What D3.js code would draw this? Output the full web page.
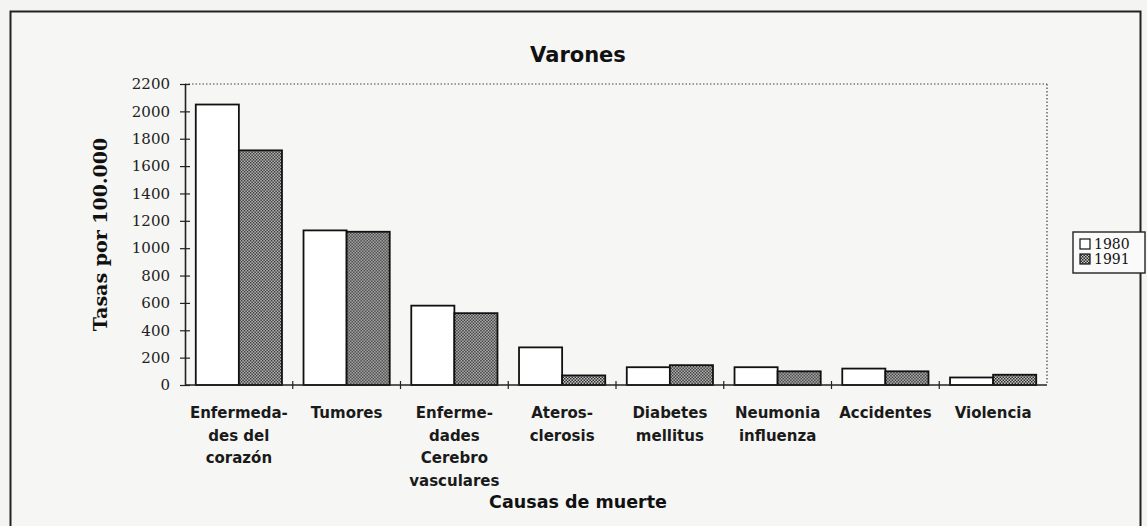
<!DOCTYPE html>
<html>
<head>
<meta charset="utf-8">
<script src="https://cdn.jsdelivr.net/npm/d3@7"></script>
<style>
  body { margin: 0; background: #f4f4f2; }
  svg { display: block; }
</style>
</head>
<body>
<div id="chart"></div>
<script>
// datos
const causas = [
  ["Enfermeda-", "des del", "corazón"],
  ["Tumores"],
  ["Enferme-", "dades", "Cerebro", "vasculares"],
  ["Ateros-", "clerosis"],
  ["Diabetes", "mellitus"],
  ["Neumonia", "influenza"],
  ["Accidentes"],
  ["Violencia"]
];
const series = ["1980", "1991"];
const valores1980 = [2050, 1130, 580, 275, 130, 130, 120, 55];
const valores1991 = [1715, 1120, 525, 70, 145, 100, 100, 75];
const yTicks = [0, 200, 400, 600, 800, 1000, 1200, 1400, 1600, 1800, 2000, 2200];

const width = 1147;
const height = 526;
const margin = { left: 185, right: 100, top: 84, bottom: 141 };

const svg = d3.select("#chart")
    .append("svg")
    .attr("width", width)
    .attr("height", height);

// trama de las barras de 1991
const defs = svg.append("defs");
const pat = defs.append("pattern")
    .attr("id", "trama")
    .attr("patternUnits", "userSpaceOnUse")
    .attr("width", 3)
    .attr("height", 3);
pat.append("rect").attr("width", 3).attr("height", 3).attr("fill", "#c8c8c8");
pat.append("rect").attr("width", 1.5).attr("height", 1.5).attr("fill", "#2a2a2a");
pat.append("rect").attr("x", 1.5).attr("y", 1.5).attr("width", 1.5).attr("height", 1.5).attr("fill", "#2a2a2a");

// marco exterior
svg.append("rect")
    .attr("x", 10.5)
    .attr("y", 11.5)
    .attr("width", 1130)
    .attr("height", 530)
    .attr("fill", "#f6f6f4")
    .attr("stroke", "#222")
    .attr("stroke-width", 2);

const x0 = d3.scaleBand()
    .domain(d3.range(causas.length))
    .range([margin.left, width - margin.right])
    .paddingInner(0.2)
    .paddingOuter(0.1);

const x1 = d3.scaleBand()
    .domain(series)
    .range([0, x0.bandwidth()]);

const y = d3.scaleLinear()
    .domain([0, 2200])
    .range([height - margin.bottom, margin.top]);

const x0Left = margin.left;
const x0Right = width - margin.right;

// borde punteado arriba y a la derecha
svg.append("line")
    .attr("x1", x0Left).attr("x2", x0Right)
    .attr("y1", y(2200)).attr("y2", y(2200))
    .attr("stroke", "#444").attr("stroke-width", 1.2)
    .attr("stroke-dasharray", "1.5,2");
svg.append("line")
    .attr("x1", x0Right).attr("x2", x0Right)
    .attr("y1", y(2200)).attr("y2", y(0))
    .attr("stroke", "#444").attr("stroke-width", 1.2)
    .attr("stroke-dasharray", "1.5,2");

// barras
const datos = causas.map((c, i) => ({ i, vals: [valores1980[i], valores1991[i]] }));
const grupos = svg.selectAll(".grupo")
    .data(datos)
    .enter()
    .append("g")
    .attr("class", "grupo")
    .attr("transform", d => `translate(${x0(d.i)},0)`);

grupos.selectAll("rect")
    .data(d => d.vals.map((v, k) => ({ serie: series[k], v })))
    .enter()
    .append("rect")
    .attr("x", d => x1(d.serie))
    .attr("y", d => y(d.v))
    .attr("width", x1.bandwidth())
    .attr("height", d => y(0) - y(d.v))
    .attr("fill", d => d.serie === "1980" ? "#ffffff" : "url(#trama)")
    .attr("stroke", "#111")
    .attr("stroke-width", 1.8);

// eje Y
const yAxis = d3.axisLeft(y)
    .tickValues(yTicks)
    .tickFormat(d3.format("d"))
    .tickSizeInner(5)
    .tickSizeOuter(0)
    .tickPadding(10);
const gy = svg.append("g")
    .attr("transform", `translate(${x0Left},0)`)
    .call(yAxis);
gy.select(".domain").attr("stroke", "#222").attr("stroke-width", 1.6);
gy.selectAll(".tick line")
    .attr("x1", -5).attr("x2", 5)
    .attr("stroke", "#222").attr("stroke-width", 1.2);
gy.selectAll(".tick text")
    .attr("fill", "#222")
    .style("font-family", "'DejaVu Serif', serif")
    .style("font-size", "15px");

// eje X
svg.append("line")
    .attr("x1", x0Left).attr("x2", x0Right)
    .attr("y1", y(0)).attr("y2", y(0))
    .attr("stroke", "#222").attr("stroke-width", 1.6);
const step = x0.step();
svg.selectAll(".xtick")
    .data(d3.range(1, causas.length))
    .enter()
    .append("line")
    .attr("class", "xtick")
    .attr("x1", d => x0(d) - step * 0.1)
    .attr("x2", d => x0(d) - step * 0.1)
    .attr("y1", y(0) - 4)
    .attr("y2", y(0) + 4)
    .attr("stroke", "#222").attr("stroke-width", 1.2);

// etiquetas de categoría
const etiquetas = svg.selectAll(".cat")
    .data(causas)
    .enter()
    .append("text")
    .attr("class", "cat")
    .attr("text-anchor", "middle")
    .attr("fill", "#1a1a1a")
    .style("font-family", "'DejaVu Sans', sans-serif")
    .style("font-weight", "bold")
    .style("font-size", "15px");
etiquetas.each(function (lineas, i) {
    const t = d3.select(this);
    lineas.forEach((l, k) => {
        t.append("tspan")
            .attr("x", x0(i) + x0.bandwidth() / 2)
            .attr("y", 418 + k * 22.5)
            .text(l);
    });
});

// título
svg.append("text")
    .attr("x", 578)
    .attr("y", 62)
    .attr("text-anchor", "middle")
    .attr("fill", "#111")
    .style("font-family", "'DejaVu Sans', sans-serif")
    .style("font-weight", "bold")
    .style("font-size", "21px")
    .text("Varones");

// título eje X
svg.append("text")
    .attr("x", 578)
    .attr("y", 508)
    .attr("text-anchor", "middle")
    .attr("fill", "#111")
    .style("font-family", "'DejaVu Sans', sans-serif")
    .style("font-weight", "bold")
    .style("font-size", "17.5px")
    .text("Causas de muerte");

// título eje Y
svg.append("text")
    .attr("transform", `translate(107, ${(y(0) + y(2200)) / 2}) rotate(-90)`)
    .attr("text-anchor", "middle")
    .attr("fill", "#111")
    .style("font-family", "'DejaVu Serif', serif")
    .style("font-weight", "bold")
    .style("font-size", "19px")
    .text("Tasas por 100.000");

// leyenda
const leyenda = svg.append("g")
    .attr("transform", "translate(1073, 232)");
leyenda.append("rect")
    .attr("width", 72)
    .attr("height", 41)
    .attr("fill", "#fafafa")
    .attr("stroke", "#222")
    .attr("stroke-width", 1.4);
series.forEach((s, k) => {
    leyenda.append("rect")
        .attr("x", 7)
        .attr("y", 7 + k * 15)
        .attr("width", 10)
        .attr("height", 10)
        .attr("fill", k === 0 ? "#fff" : "url(#trama)")
        .attr("stroke", "#111")
        .attr("stroke-width", 1.2);
    leyenda.append("text")
        .attr("x", 21)
        .attr("y", 17 + k * 15)
        .attr("fill", "#111")
        .style("font-family", "'DejaVu Serif', serif")
        .style("font-size", "14px")
        .text(s);
});
</script>
</body>
</html>
